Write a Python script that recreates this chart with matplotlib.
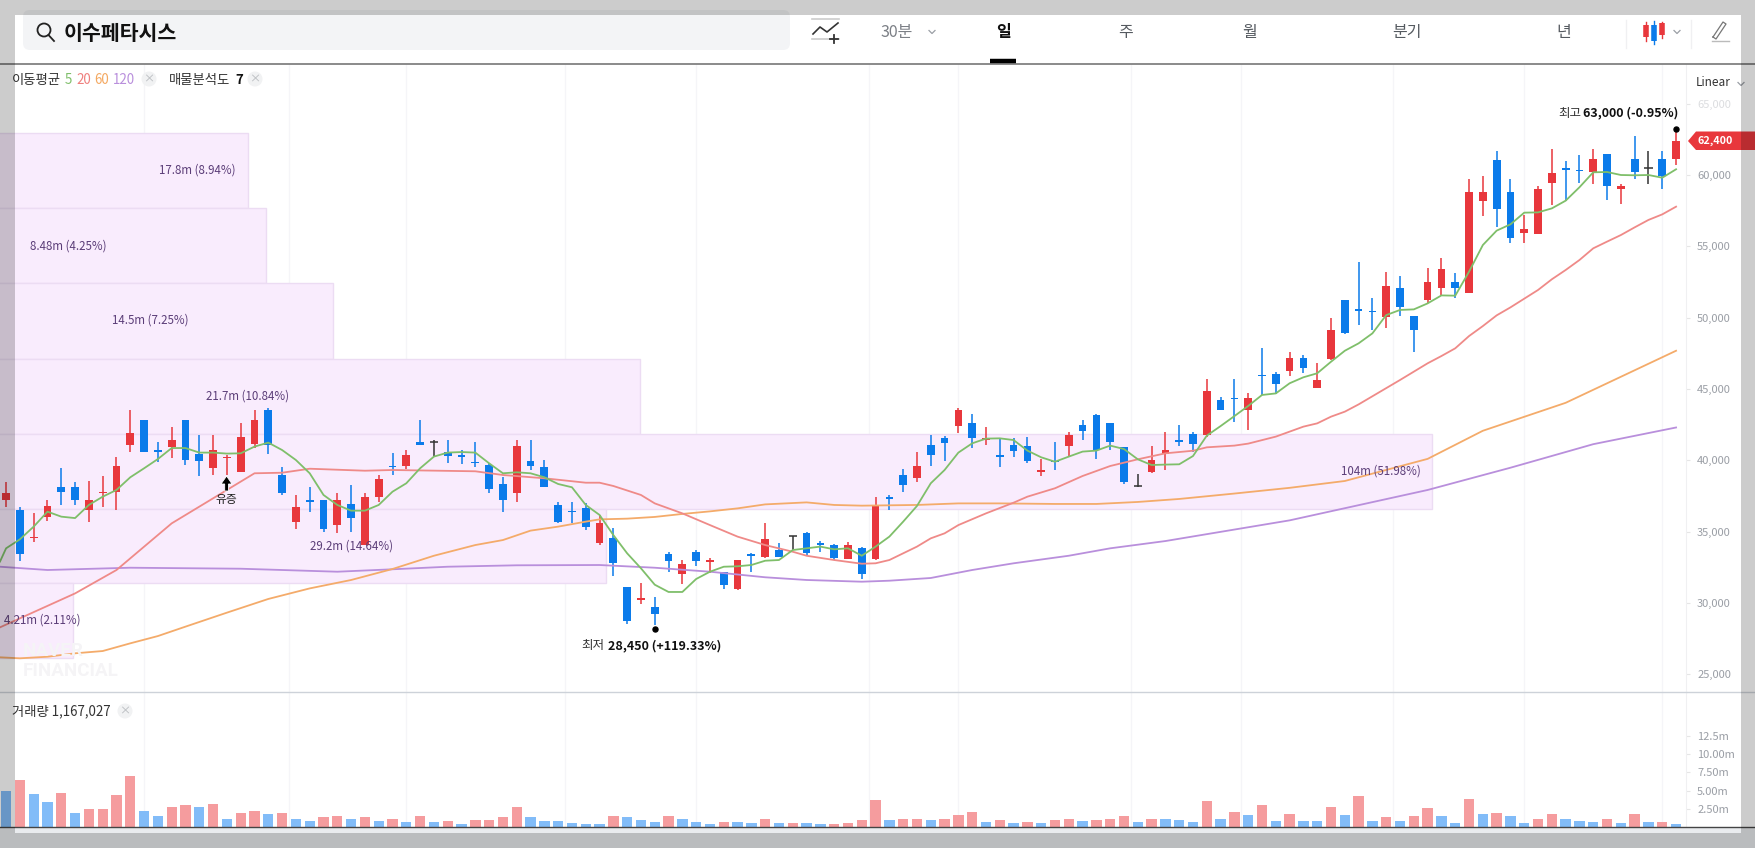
import matplotlib
matplotlib.use('Agg')
import matplotlib.pyplot as plt
from matplotlib.patches import Rectangle, Polygon, FancyBboxPatch, Circle
from matplotlib.lines import Line2D
from matplotlib.transforms import Affine2D

plt.rcParams['font.family'] = ['Noto Sans CJK KR', 'DejaVu Sans']

# OHLC, one value per trading day
opens = [37200, 36550, 34550, 36000, 38150, 38100, 36550, 37700, 37800, 41100,
         42800, 40700, 40900, 42800, 40450, 39450, 40150, 39200, 41150, 43550,
         38950, 35650, 37200, 37200, 35450, 36950, 34050, 37450, 39600, 39600,
         41250, 41250, 40600, 40350, 39900, 39700, 38350, 37700, 39950, 39550,
         36900, 36450, 36650, 34200, 34550, 31150, 30200, 29750, 33400, 32000,
         33550, 32900, 32200, 30950, 33400, 33200, 33700, 34700, 34900, 34200,
         34050, 33100, 33850, 33100, 37400, 38950, 38750, 41050, 41550, 42400,
         42600, 41450, 40400, 41050, 41000, 39200, 39950, 41000, 42500, 43200,
         42600, 40900, 38200, 39150, 40450, 41450, 41850, 41750, 44250, 44400,
         43550, 46000, 46050, 46250, 47200, 45050, 47100, 51250, 50600, 50500,
         50050, 52050, 50100, 51250, 52050, 52500, 51750, 58200, 61050, 58800,
         55950, 55850, 59450, 60500, 60350, 60200, 61450, 59000, 61100, 60500,
         61100, 61100]
closes = [37700, 33450, 34650, 36800, 37800, 37200, 37250, 37800, 39600, 41900,
          40550, 40600, 41450, 40000, 39950, 40750, 40250, 41650, 42850, 41050,
          37700, 36700, 37100, 35200, 37250, 35950, 37450, 38700, 39550, 40350,
          41050, 41250, 40300, 40200, 39800, 38000, 37200, 41000, 39600, 38100,
          35650, 36350, 35350, 35600, 32800, 28750, 30350, 29200, 32950, 32750,
          32950, 33000, 31250, 33000, 33300, 34450, 33250, 34700, 33500, 34050,
          33150, 34050, 32000, 36800, 37300, 38250, 39600, 40350, 41200, 43550,
          41550, 41550, 40200, 40650, 39950, 39350, 39850, 41750, 42050, 40700,
          41250, 38500, 38200, 40050, 40700, 41250, 41150, 44850, 43550, 44300,
          44350, 45900, 45350, 47200, 46500, 45650, 49150, 48900, 50500, 50400,
          52250, 50750, 49150, 52500, 53400, 52100, 58800, 58800, 57650, 55600,
          56200, 59050, 60150, 60350, 60250, 61150, 59250, 59250, 60200, 60500,
          59900, 62400]
highs = [38500, 36750, 36300, 37250, 39450, 38500, 38550, 38900, 40250, 43500,
         42800, 41300, 42300, 42800, 41800, 41800, 40350, 42600, 43500, 43700,
         39550, 37600, 38100, 37200, 37700, 38250, 37700, 38950, 40500, 40750,
         42800, 41450, 41400, 40700, 41300, 39800, 38850, 41400, 41400, 40000,
         37050, 37050, 37000, 36150, 35250, 31150, 31400, 30450, 33550, 33000,
         33700, 33150, 32200, 33000, 33500, 35600, 34200, 34700, 34950, 34350,
         34100, 34300, 33900, 37400, 37600, 39400, 40600, 41750, 41700, 43700,
         43250, 42350, 41550, 41550, 41600, 40100, 41250, 42000, 42850, 43250,
         42600, 40950, 39050, 41000, 41950, 42500, 42000, 45700, 44450, 45700,
         44700, 47850, 46200, 47600, 47400, 46800, 50000, 51250, 53900, 51400,
         53200, 52900, 50150, 53500, 54200, 53100, 59750, 59950, 61650, 59700,
         57200, 59200, 61850, 61000, 61400, 61800, 61450, 59350, 62750, 61650,
         61650, 63000]
lows = [36750, 32950, 34300, 35750, 36850, 36850, 35700, 36750, 36550, 40550,
        40550, 39850, 40150, 39700, 38900, 38950, 39000, 39200, 40850, 40450,
        37550, 35200, 36400, 34950, 34900, 35000, 34050, 37050, 39000, 39400,
        41050, 40200, 39800, 39750, 39550, 37700, 36400, 37100, 39350, 38100,
        35600, 35600, 35100, 34050, 31900, 28550, 29950, 28450, 32200, 31350,
        32600, 32100, 31000, 30900, 32200, 33150, 33200, 33700, 33350, 33600,
        33000, 33050, 31650, 33000, 36500, 37800, 38450, 39600, 39950, 41900,
        40850, 41050, 39550, 40200, 39800, 38900, 39300, 40250, 41400, 40100,
        40750, 38350, 38150, 39100, 39300, 41000, 40600, 41650, 43500, 42700,
        42100, 44600, 44650, 45900, 46150, 45050, 47000, 48850, 49500, 49100,
        49300, 50150, 47600, 51050, 51600, 51400, 51700, 57100, 56350, 55250,
        55250, 55850, 57900, 58150, 59450, 59350, 58250, 58000, 59750, 59350,
        59050, 60700]

# volume in millions, bar colour does not follow the candle colour
volumes = [4.95, 6.41, 4.49, 3.39, 4.63, 1.97, 2.43, 2.43, 4.35, 7.01,
           2.15, 1.47, 2.75, 3.07, 2.75, 3.21, 1.15, 1.97, 2.15, 1.83,
           1.97, 1.15, 0.82, 1.33, 1.47, 1.15, 1.33, 0.82, 1.15, 0.69,
           1.47, 0.69, 0.82, 0.37, 1.01, 1.01, 1.33, 2.75, 1.33, 0.82,
           0.82, 0.55, 0.37, 0.37, 1.47, 1.33, 1.01, 0.69, 1.47, 1.15,
           0.69, 0.37, 0.69, 0.69, 0.55, 1.15, 0.55, 0.55, 0.55, 0.37,
           0.37, 0.55, 1.01, 3.76, 1.01, 1.15, 1.15, 1.01, 1.15, 1.65,
           2.11, 0.69, 1.01, 0.55, 0.69, 0.55, 1.01, 1.15, 0.82, 1.01,
           1.15, 1.47, 0.69, 1.15, 1.15, 1.01, 0.69, 3.53, 1.15, 2.11,
           1.65, 3.07, 0.82, 1.79, 0.82, 0.82, 2.75, 1.65, 4.21, 0.82,
           1.33, 0.82, 1.47, 2.56, 1.47, 0.55, 3.89, 1.79, 1.97, 1.47,
           0.55, 1.15, 1.79, 1.15, 0.82, 0.69, 1.15, 0.55, 1.79, 0.69,
           0.69, 0.37]
vol_sides = ('brbbrbrrrr' 'bbrrbrbrrb' 'rbbrrbrbrb' 'rbrbrrrrbb' 'bbbbrbbbrb'
             'bbrbbrbrbb' 'rrrrbrrbrr' 'rbrbrbrrbr' 'rrbrbbbrbr' 'brbrbbrbrb'
             'rbrrbbrbrb' 'brrbbbrbrb' 'rb')

ma5_x = [-0.44] + list(range(122))
ma5 = [32900, 33830, 34460, 35350, 36400, 36050, 35950, 36870, 37450, 37920, 38810,
       39440, 40090, 40860, 40860, 40540, 40540, 40470, 40490, 40960, 41240,
       40720, 40020, 39090, 37570, 36870, 36470, 36470, 36870, 37800, 38390,
       39440, 40260, 40540, 40580, 40540, 39790, 39090, 39160, 39090, 38810,
       38340, 38110, 36870, 36170, 34760, 33480, 32430, 31280, 30770, 30770,
       31680, 32190, 32540, 32570, 32660, 32960, 33010, 33710, 33830, 33950,
       33760, 33830, 33310, 33950, 34650, 35700, 36800, 38390, 39320, 40540,
       41190, 41520, 41540, 41420, 40680, 40210, 39900, 40260, 40610, 40680,
       41030, 40790, 40070, 39670, 39700, 39720, 40300, 41730, 42400, 43100,
       43810, 44580, 44690, 45400, 45820, 46100, 46910, 47680, 48200, 48900,
       50180, 50540, 50580, 51000, 51560, 51540, 53220, 55090, 56100, 56540,
       57360, 57380, 57660, 58200, 59140, 60190, 60210, 60000, 59980, 60000,
       59810, 60400]
ma20_x = [-0.44, 5, 8, 12, 16, 18, 20, 22, 26, 28, 34, 36, 39, 42, 43, 44, 46, 47, 49,
          51, 53, 55, 57, 58, 60, 62, 63, 64, 66, 67, 68, 69, 71, 73, 74, 76, 78,
          80, 82, 84, 86, 87, 89, 90, 92, 94, 95, 96, 97, 98, 101, 103, 104, 105,
          106, 107, 108, 109, 110, 111, 112, 113, 114, 115, 116, 117, 118, 119,
          120, 121]
ma20 = [28290, 30670, 32310, 35580, 37920, 39090, 39130, 39410, 39270, 39320,
        39230, 38970, 38740, 38430, 38430, 38200, 37570, 36980, 36280, 35460,
        34650, 34060, 33590, 33310, 33010, 32750, 32780, 33010, 33950, 34530,
        34880, 35460, 36280, 37030, 37450, 38040, 38900, 39600, 40070, 40490,
        40670, 40910, 41030, 41170, 41660, 42360, 42590, 43060, 43410, 43920,
        45630, 46800, 47310, 47850, 48710, 49410, 50160, 50720, 51330, 51940,
        52690, 53340, 54040, 54860, 55330, 55790, 56330, 56850, 57240, 57780]
ma60_x = [-0.44, 1, 3, 5, 7, 9, 11, 13, 16, 19, 22, 25, 28, 31, 34, 36, 38, 40, 42, 43,
          45, 47, 49, 51, 53, 55, 58, 60, 62, 66, 69, 72, 76, 79, 82, 85, 89, 93,
          97, 103, 107, 113, 121]
ma60 = [26190, 26120, 26230, 26470, 26630, 27170, 27680, 28340, 29320, 30280,
        31020, 31610, 32380, 33310, 34060, 34410, 35070, 35350, 35700, 35860,
        35910, 36030, 36240, 36420, 36630, 36910, 37050, 36870, 36820, 36870,
        36980, 36980, 36940, 36940, 37080, 37290, 37670, 38070, 38550, 40100,
        42070, 44030, 47680]
ma120_x = [-0.44, 3, 9, 17, 24, 28, 32, 37, 43, 47, 51, 55, 58, 62, 64, 67, 70, 73, 77,
           80, 84, 93, 103, 109, 115, 121]
ma120 = [32540, 32310, 32470, 32400, 32190, 32360, 32540, 32640, 32660, 32470,
         32190, 31800, 31610, 31490, 31560, 31750, 32310, 32780, 33310, 33830,
         34340, 35790, 37920, 39480, 41130, 42300]

# volume profile rows, top to bottom: price edges and how far right each row reaches
profile_edges = [62950, 57700, 52430, 47100, 41850, 36600, 31400, 26150]
profile_reach = [17.5, 18.85, 23.7, 45.9, 103.3, 43.5, 4.85]
profile_labels = ['17.8m (8.94%)', '8.48m (4.25%)', '14.5m (7.25%)', '21.7m (10.84%)',
                  '104m (51.98%)', '29.2m (14.64%)', '4.21m (2.11%)']
profile_label_xy = [(197, 170), (68, 246), (150, 320), (247, 396),
                    (1381, 471), (351, 546), (42, 620)]

price_ticks = [25000, 30000, 35000, 40000, 45000, 50000, 55000, 60000, 65000]
price_tick_labels = ['25,000', '30,000', '35,000', '40,000', '45,000',
                     '50,000', '55,000', '60,000', '65,000']
vol_ticks = [2.5, 5, 7.5, 10, 12.5]
vol_tick_labels = ['2.50m', '5.00m', '7.50m', '10.00m', '12.5m']
date_ticks = [10, 20.5, 29, 40.5, 50, 62.5, 69, 81.5, 89.5, 100.5, 110, 120]
date_labels = ['02/14', '3월', '03/14', '4월', '04/14', '5월', '05/14', '6월',
               '06/14', '7월', '07/14', '07/28']

RED, BLUE = '#e8373c', '#0b7bea'
W, H = 1755, 848

fig = plt.figure(figsize=(W / 100, H / 100), dpi=100, facecolor='white')
# overlay stuff is placed in image pixels, y going down
px = Affine2D().scale(1, -1).translate(0, H)

ax = fig.add_axes([0, (H - 692) / H, 1686 / W, (692 - 64) / H])
axv = fig.add_axes([0, (H - 827) / H, 1686 / W, (827 - 692) / H])

x = list(range(len(closes)))
xlim = (-0.44, 121.72)

# volume profile
for k, reach in enumerate(profile_reach):
    ax.barh(profile_edges[k + 1], reach + 1, left=-1,
            height=profile_edges[k] - profile_edges[k + 1], align='edge',
            color='#f9ecfd', edgecolor='#ecdcf3', linewidth=1, zorder=1)

# candles
for i in x:
    o, c = opens[i], closes[i]
    col = RED if c > o else BLUE if c < o else '#333333'
    ax.vlines(i, lows[i], highs[i], color=col, linewidth=1.1, zorder=3)
    if c == o:
        ax.hlines(c, i - 0.3, i + 0.3, color=col, linewidth=1.1, zorder=3)
    else:
        ax.bar(i, abs(c - o), bottom=min(o, c), width=0.56, color=col, zorder=3)

ax.plot(ma120_x, ma120, color='#b98fdc', linewidth=1.3, zorder=4)
ax.plot(ma60_x, ma60, color='#f4ab6a', linewidth=1.3, zorder=4)
ax.plot(ma20_x, ma20, color='#ef8a88', linewidth=1.3, zorder=4)
ax.plot(ma5_x, ma5, color='#7fbf6a', linewidth=1.3, zorder=5)

# high / low dots
ax.plot([121], [63250], 'o', color='black', markersize=3.6, zorder=6)
ax.plot([47], [28150], 'o', color='black', markersize=3.6, zorder=6)

ax.set_xlim(xlim)
ax.set_ylim(23758, 67781)
ax.yaxis.tick_right()
ax.set_yticks(price_ticks)
ax.set_yticklabels(price_tick_labels, fontsize=8, color='#9a9ea5')
ax.get_yticklabels()[-1].set_alpha(0.35)
ax.tick_params(axis='y', length=3, color='#e6e6e6', pad=5)
ax.set_xticks(date_ticks)
ax.tick_params(axis='x', length=0, labelbottom=False)
ax.grid(axis='x', color='#f5f5f8', linewidth=1)
ax.set_axisbelow(True)
for s in ax.spines.values():
    s.set_visible(False)
ax.spines['right'].set_visible(True)
ax.spines['right'].set_color('#f0f0f2')

# volume
vol_col = [('#f59c9e' if v == 'r' else '#82bcf8') for v in vol_sides]
axv.bar(x, volumes, width=0.75, color=vol_col, zorder=3)
axv.set_xlim(xlim)
axv.set_ylim(0, 18.5)
axv.yaxis.tick_right()
axv.set_yticks(vol_ticks)
axv.set_yticklabels(vol_tick_labels, fontsize=8, color='#9a9ea5')
axv.tick_params(axis='y', length=3, color='#e6e6e6', pad=5)
axv.set_xticks(date_ticks)
axv.set_xticklabels(date_labels, fontsize=8.5)
axv.tick_params(axis='x', length=0, pad=3.5)
for lab in axv.get_xticklabels():
    if lab.get_text().endswith('월'):
        lab.set_fontweight('bold')
        lab.set_color('#333333')
    else:
        lab.set_color('#7f8389')
axv.grid(axis='x', color='#f5f5f8', linewidth=1)
axv.set_axisbelow(True)
for s in axv.spines.values():
    s.set_visible(False)
axv.spines['right'].set_visible(True)
axv.spines['right'].set_color('#f0f0f2')


def txt(xp, yp, s, **kw):
    kw.setdefault('va', 'center')
    kw.setdefault('ha', 'left')
    return fig.text(xp, yp, s, transform=px, **kw)


def line(xs, ys, **kw):
    fig.add_artist(Line2D(xs, ys, transform=px, **kw))


# header
fig.add_artist(FancyBboxPatch((23, 10), 767, 40, boxstyle='round,pad=0,rounding_size=7',
                              transform=px, facecolor='#f3f4f6', edgecolor='none', zorder=0.5))
fig.add_artist(Circle((44, 30), 6.5, transform=px, fill=False, edgecolor='#222222', linewidth=1.3))
line([48.5, 54], [35, 41], color='#222222', linewidth=1.3)
txt(64, 33, '이수페타시스', fontsize=14.8, fontweight='bold', color='#111111')
line([0, W], [63.5, 63.5], color='#777777', linewidth=1.2)
line([990, 1016], [61, 61], color='black', linewidth=3.2, solid_capstyle='butt')

# toolbar icons
line([812, 839], [19, 19], color='#cccccc', linewidth=1.2)
line([812, 839], [39, 39], color='#cccccc', linewidth=1.2)
line([813, 820, 827, 838], [34, 27, 32, 23], color='#333333', linewidth=1.2)
line([830, 838], [39, 39], color='#333333', linewidth=1.3)
line([834, 834], [35, 43], color='#333333', linewidth=1.3)
txt(897, 32, '30분', fontsize=11.5, color='#7b7f85', ha='center')
txt(1004, 32, '일', fontsize=11.5, fontweight='bold', color='#111111', ha='center')
for xp, s in [(1126, '주'), (1250, '월'), (1407, '분기'), (1564, '년')]:
    txt(xp, 32, s, fontsize=11.5, color='#555a60', ha='center')
for xc, yc in [(932, 32), (1677, 32), (1741, 84)]:
    line([xc - 3, xc, xc + 3], [yc - 1.5, yc + 1.5, yc - 1.5], color='#9a9ea5', linewidth=0.9)
line([1646, 1646], [22, 41], color=RED, linewidth=1)
line([1646, 1646], [25, 37], color=RED, linewidth=4, solid_capstyle='butt')
line([1654, 1654], [21, 44], color=BLUE, linewidth=1)
line([1654, 1654], [25, 41], color=BLUE, linewidth=4, solid_capstyle='butt')
line([1662, 1662], [22, 38], color=RED, linewidth=1)
line([1662, 1662], [23, 35], color=RED, linewidth=4, solid_capstyle='butt')
line([1626, 1626], [20, 48], color='#f0f0f2', linewidth=1)
line([1691, 1691], [20, 48], color='#f0f0f2', linewidth=1)
line([1713, 1716, 1726, 1723, 1713], [37, 39, 24, 22, 37], color='#777777', linewidth=0.9)
line([1712, 1729], [41, 41], color='#bbbbbb', linewidth=1)
txt(1696, 83, 'Linear', fontsize=8.5, color='#333333')

# legend row
txt(12, 80, '이동평균', fontsize=9.6, color='#333333')
txt(65, 80, '5', fontsize=9.6, color='#7fbf6a')
txt(76, 80, '20', fontsize=9.6, color='#ef7f7d')
txt(94, 80, '60', fontsize=9.6, color='#f4a860')
txt(113, 80, '120', fontsize=9.6, color='#b98fdc')
txt(169, 80, '매물분석도', fontsize=9.6, color='#333333')
txt(235, 80, '7', fontsize=9.6, fontweight='bold', color='#111111')
txt(12, 711, '거래량 1,167,027', fontsize=9.6, color='#333333')
for xc, yc in [(149, 79), (255, 79), (125, 711)]:
    fig.add_artist(Circle((xc, yc), 7.5, transform=px, facecolor='#f1f2f3', edgecolor='none'))
    txt(xc, yc, '×', fontsize=8, color='#b5b8bc', ha='center')

# watermark
txt(23, 651, 'NAVER', fontsize=13.5, fontweight='bold', family='Roboto', color='#f5f4f6')
txt(23, 671, 'FINANCIAL', fontsize=13.5, fontweight='bold', family='Roboto', color='#f5f4f6')

# profile labels
for (xp, yp), s in zip(profile_label_xy, profile_labels):
    txt(xp, yp, s, fontsize=8.3, color='#5b3d78', ha='center')

# high / low / event labels
txt(1678, 113, '63,000 (-0.95%)', fontsize=9, fontweight='bold', color='#111111', ha='right')
txt(1581, 113, '최고', fontsize=9, color='#333333', ha='right')
txt(721, 646, '28,450 (+119.33%)', fontsize=9, fontweight='bold', color='#111111', ha='right')
txt(604, 646, '최저', fontsize=9, color='#333333', ha='right')
fig.add_artist(Polygon([(226.6, 476), (232, 484), (228.5, 484), (228.5, 491),
                        (224.7, 491), (224.7, 484), (221, 484)], closed=True,
                       transform=px, facecolor='black', edgecolor='white', linewidth=0.6, zorder=6))
txt(226.6, 499.5, '유증', fontsize=8.5, color='#222222', ha='center', zorder=6)

# current price tag
fig.add_artist(Polygon([(1688, 141), (1696, 131.5), (W, 131.5), (W, 150), (1696, 150)],
                       closed=True, transform=px, facecolor=RED, edgecolor='none', zorder=6))
txt(1697, 141, '62,400', fontsize=7.8, fontweight='bold', color='white', zorder=7)

# panel separators, bottom strip
line([0, W], [692, 692], color='#cdd2d9', linewidth=1)
fig.add_artist(Rectangle((0, 827), W, 21, transform=px, facecolor='#e9ebee', edgecolor='none', zorder=0.5))
line([0, W], [827, 827], color='#444444', linewidth=1, zorder=4)

# grey dimming around the captured window
for box in [(0, 0, W, 15), (0, 15, 15, H - 15), (1740.5, 15, W - 1740.5, H - 15), (15, 833, 1725.5, H - 833)]:
    fig.add_artist(Rectangle((box[0], box[1]), box[2], box[3], transform=px,
                             facecolor='black', alpha=0.2, edgecolor='none', zorder=10))

fig.savefig('out.png', dpi=100)
